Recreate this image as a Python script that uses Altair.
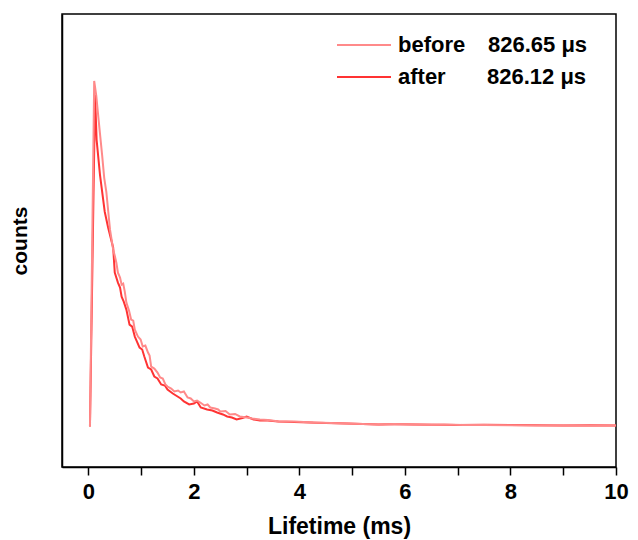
import altair as alt
import pandas as pd

# ---- data (counts in arbitrary units) ----
series_names = ["before", "after"]
lifetimes = ["826.65 \u03bcs", "826.12 \u03bcs"]
colors = ["#FF8A8A", "#FF3333"]

t_before = [0.03, 0.11, 0.15, 0.19, 0.26, 0.30, 0.34, 0.41, 0.47, 0.50, 0.53, 0.56, 0.60, 0.63,
            0.66, 0.69, 0.72, 0.77, 0.81, 0.85, 0.88, 0.94, 0.99, 1.03, 1.08, 1.13, 1.16, 1.19,
            1.25, 1.31, 1.36, 1.41, 1.46, 1.50, 1.57, 1.63, 1.70, 1.75, 1.81, 1.88, 1.94, 2.00,
            2.06, 2.12, 2.20, 2.26, 2.31, 2.40, 2.46, 2.50, 2.60, 2.68, 2.78, 2.87, 3.00, 3.10,
            3.25, 3.40, 3.62, 3.90, 4.26, 4.60, 4.88, 5.20, 5.50, 5.80, 6.13, 6.50, 6.75, 7.10,
            7.50, 8.00, 8.50, 9.00, 9.50, 10.0]
c_before = [-10, 3450, 3300, 3080, 2710, 2480, 2340, 1960, 1760, 1700, 1630, 1530, 1480, 1410,
            1420, 1340, 1230, 1150, 1060, 1050, 960, 890, 860, 790, 800, 730, 700, 590,
            570, 530, 480, 470, 410, 390, 370, 340, 350, 330, 340, 280, 270, 240,
            250, 230, 200, 210, 180, 170, 160, 140, 145, 110, 115, 90, 80, 70,
            60, 55, 40, 40, 30, 25, 20, 15, 10, 15, 10, 8, 10, 5,
            5, 3, 0, 3, 0, 0]

t_after = [0.03, 0.126, 0.156, 0.22, 0.31, 0.375, 0.47, 0.50, 0.56, 0.60, 0.63, 0.67, 0.72,
           0.78, 0.83, 0.88, 0.97, 1.02, 1.06, 1.13, 1.19, 1.25, 1.31, 1.38, 1.45, 1.50,
           1.60, 1.69, 1.75, 1.81, 1.91, 2.00, 2.06, 2.13, 2.25, 2.35, 2.44, 2.55, 2.63,
           2.72, 2.81, 2.92, 3.00, 3.13, 3.25, 3.40, 3.60, 3.90, 4.20, 4.50, 4.90, 5.20,
           5.50, 5.80, 6.20, 6.60, 7.00, 7.50, 8.00, 8.50, 9.00, 9.50, 10.0]
c_after = [-10, 3310, 2860, 2510, 2140, 1980, 1780, 1530, 1430, 1380, 1290, 1240, 1160,
           1010, 990, 890, 780, 760, 690, 580, 560, 490, 470, 410, 400, 360,
           320, 290, 270, 240, 210, 220, 240, 180, 160, 150, 130, 110, 90,
           80, 60, 75, 90, 60, 50, 50, 40, 35, 30, 25, 20, 15,
           10, 12, 10, 8, 5, 8, 5, 3, 0, 3, 0]

df_before = pd.DataFrame({"t": t_before, "c": c_before})
df_after = pd.DataFrame({"t": t_after, "c": c_after})

FONT = "Liberation Sans"
W, H = 554, 453

x_scale = alt.Scale(domain=[-0.5, 10], nice=False, zero=False)
y_scale = alt.Scale(domain=[-416, 4120], nice=False, zero=False)

x_axis = alt.Axis(values=list(range(0, 11)), labelExpr="datum.value % 2 == 0 ? datum.label : ''",
                  grid=False, tickSize=8, tickColor="black", tickWidth=1.5,
                  domainColor="black", domainWidth=1.5, labelFont=FONT, labelFontSize=22,
                  labelFontWeight="bold", labelColor="black", labelPadding=6,
                  title="Lifetime (ms)", titleFont=FONT, titleFontSize=23,
                  titleFontWeight="bold", titleColor="black", titlePadding=13, labelFlush=False)
y_axis = alt.Axis(labels=False, ticks=False, grid=False, domainColor="black", domainWidth=1.5,
                  title="counts", titleFont=FONT, titleFontSize=21, titleFontWeight="bold",
                  titleColor="black", titlePadding=32)

line_after = alt.Chart(df_after).mark_line(color=colors[1], strokeWidth=2).encode(
    x=alt.X("t:Q", scale=x_scale, axis=x_axis),
    y=alt.Y("c:Q", scale=y_scale, axis=y_axis),
)
line_before = alt.Chart(df_before).mark_line(color=colors[0], strokeWidth=2).encode(
    x=alt.X("t:Q", scale=x_scale),
    y=alt.Y("c:Q", scale=y_scale),
)

# ---- manual legend ----
leg_layers = []
rows_y = [31, 63]
for i in range(2):
    ldf = pd.DataFrame({"name": [series_names[i]], "val": [lifetimes[i]]})
    leg_layers.append(alt.Chart(ldf).mark_rule(color=colors[i], strokeWidth=2).encode(
        x=alt.value(275), x2=alt.value(329), y=alt.value(rows_y[i])))
    leg_layers.append(alt.Chart(ldf).mark_text(align="left", baseline="middle", font=FONT,
                                               fontSize=22, fontWeight="bold", color="black").encode(
        x=alt.value(336), y=alt.value(rows_y[i]), text="name:N"))
    leg_layers.append(alt.Chart(ldf).mark_text(align="left", baseline="middle", font=FONT,
                                               fontSize=22, fontWeight="bold", color="black").encode(
        x=alt.value(426 - i), y=alt.value(rows_y[i]), text="val:N"))

chart = alt.layer(line_after, line_before, *leg_layers).properties(
    width=W, height=H,
    autosize=alt.AutoSizeParams(type="none"),
    padding={"left": 54, "top": 6, "right": 14, "bottom": 73},
    background="white",
).configure_view(stroke="black", strokeWidth=1.5)

chart.save("out.html", embed_options={"renderer": "svg", "actions": False})
